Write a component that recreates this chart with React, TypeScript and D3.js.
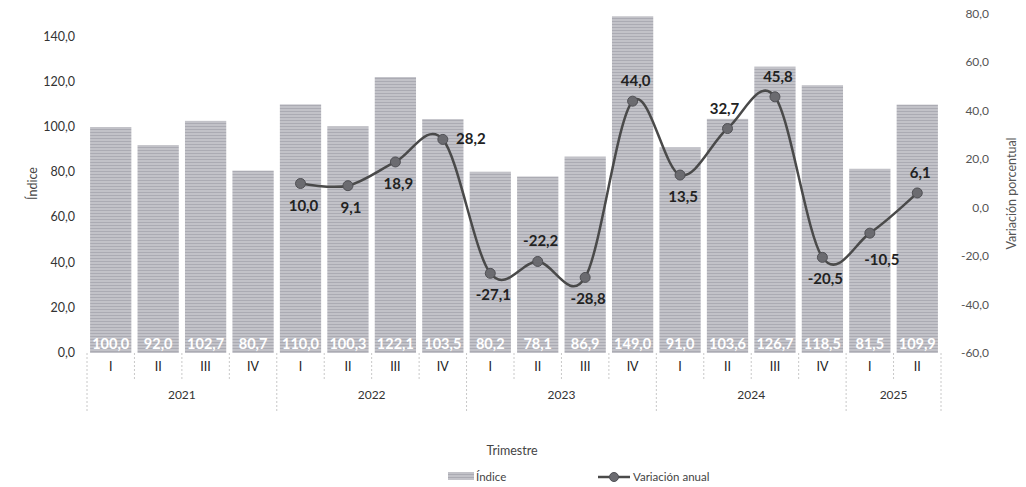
import React from "react";
import * as d3 from "d3";

const years = ["2021", "2022", "2023", "2024", "2025"];
const quarters = ["I", "II", "III", "IV", "I", "II", "III", "IV", "I", "II", "III", "IV", "I", "II", "III", "IV", "I", "II"];
const quarterYear = [0, 0, 0, 0, 1, 1, 1, 1, 2, 2, 2, 2, 3, 3, 3, 3, 4, 4];
const indice = [100.0, 92.0, 102.7, 80.7, 110.0, 100.3, 122.1, 103.5, 80.2, 78.1, 86.9, 149.0, 91.0, 103.6, 126.7, 118.5, 81.5, 109.9];
const variacion = [null, null, null, null, 10.0, 9.1, 18.9, 28.2, -27.1, -22.2, -28.8, 44.0, 13.5, 32.7, 45.8, -20.5, -10.5, 6.1];
// where each line label sits relative to its point
const labelPos = ["", "", "", "", "below", "below", "below", "right", "below", "above", "below", "above", "below", "aboveLeft", "above", "below", "belowRight", "above"];
const leftTicks = [0, 20, 40, 60, 80, 100, 120, 140];
const rightTicks = [-60, -40, -20, 0, 20, 40, 60, 80];

const fmt = (v: number) => v.toFixed(1).replace(".", ",");

export default function App() {
  const W = 1026, H = 487;
  const left = 87, right = 941, top = 14, bottom = 353;
  const font = "Lato, 'Open Sans', sans-serif";

  const x = d3.scaleBand<number>().domain(d3.range(indice.length)).range([left, right]).paddingInner(0.13).paddingOuter(0.065);
  const y = d3.scaleLinear().domain([0, 150]).range([bottom, top]);
  const y2 = d3.scaleLinear().domain([-60, 80]).range([bottom, top]);
  const step = x.step();
  const cx = (i: number) => (x(i) as number) + x.bandwidth() / 2;

  const pts = variacion
    .map((v, i) => ({ v, i }))
    .filter(d => d.v !== null) as { v: number; i: number }[];
  const line = d3
    .line<{ v: number; i: number }>()
    .x(d => cx(d.i))
    .y(d => y2(d.v))
    .curve(d3.curveCardinal.tension(0));

  const labelXY = (d: { v: number; i: number }) => {
    const px = cx(d.i), py = y2(d.v);
    switch (labelPos[d.i]) {
      case "above": return [px + 3, py - 15];
      case "aboveLeft": return [px - 3, py - 15];
      case "right": return [px + 28, py + 5];
      case "belowRight": return [px + 12, py + 32];
      default: return [px + 3, py + 27];
    }
  };

  // year groups
  const yearGroups = years.map((yr, k) => {
    const idx = quarterYear.map((q, i) => (q === k ? i : -1)).filter(i => i >= 0);
    const x0 = left + idx[0] * step;
    const x1 = left + (idx[idx.length - 1] + 1) * step;
    return { yr, x0, x1 };
  });
  const isYearEdge = (px: number) => yearGroups.some(g => Math.abs(g.x0 - px) < 0.5 || Math.abs(g.x1 - px) < 0.5);

  return (
    <svg width={W} height={H} style={{ position: "absolute", left: 0, top: 0, background: "#fff" }} fontFamily={font}>
      <defs>
        <pattern id="tex" width="4" height="3" patternUnits="userSpaceOnUse">
          <rect width="4" height="3" fill="#c2c2c8" />
          <rect width="4" height="1" fill="#ababb3" />
        </pattern>
      </defs>

      {/* bars */}
      {indice.map((v, i) => (
        <rect key={"b" + i} x={x(i)} y={y(v)} width={x.bandwidth()} height={bottom - y(v)} fill="url(#tex)" />
      ))}
      {indice.map((v, i) => (
        <text key={"bl" + i} x={cx(i)} y={bottom - 4} textAnchor="middle" fontSize={14.5} fontWeight="bold" fill="#fff">
          {fmt(v)}
        </text>
      ))}

      {/* category separators */}
      {d3.range(indice.length + 1).map(i => {
        const px = left + i * step;
        return (
          <line key={"s" + i} x1={px} x2={px} y1={bottom} y2={isYearEdge(px) ? 412 : 380}
            stroke="#c8c8c8" strokeWidth={1} strokeDasharray="2,2" />
        );
      })}
      {quarters.map((q, i) => (
        <text key={"q" + i} x={cx(i)} y={371} textAnchor="middle" fontSize={12.5} fill="#222">{q}</text>
      ))}
      {yearGroups.map(g => (
        <text key={g.yr} x={(g.x0 + g.x1) / 2} y={399} textAnchor="middle" fontSize={12} fill="#333">{g.yr}</text>
      ))}

      {/* left axis */}
      {leftTicks.map(t => (
        <text key={"l" + t} x={75} y={y(t) + 4} textAnchor="end" fontSize={12.5} fill="#333">{fmt(t)}</text>
      ))}
      <text transform={`translate(37,${(top + bottom) / 2}) rotate(-90)`} textAnchor="middle" fontSize={12.5} fill="#444">Índice</text>

      {/* right axis */}
      {rightTicks.map(t => (
        <text key={"r" + t} x={989} y={y2(t) + 4} textAnchor="end" fontSize={12} fill="#555">{fmt(t)}</text>
      ))}
      <text transform={`translate(1016,${(top + bottom) / 2 + 10}) rotate(-90)`} textAnchor="middle" fontSize={12.5} fill="#555">Variación porcentual</text>

      {/* line */}
      <path d={line(pts) || ""} fill="none" stroke="#4a4a4a" strokeWidth={2.5} />
      {pts.map(d => (
        <circle key={"c" + d.i} cx={cx(d.i)} cy={y2(d.v)} r={5} fill="#6b6b70" stroke="#505055" strokeWidth={1} />
      ))}
      {pts.map(d => {
        const [lx, ly] = labelXY(d);
        return (
          <text key={"t" + d.i} x={lx} y={ly} textAnchor="middle" fontSize={15} fontWeight="bold" fill="#222">{fmt(d.v)}</text>
        );
      })}

      {/* axis title */}
      <text x={512} y={455} textAnchor="middle" fontSize={12.5} fill="#444">Trimestre</text>

      {/* legend */}
      <rect x={448} y={472} width={26} height={8} fill="url(#tex)" />
      <text x={476} y={481} fontSize={11.5} fill="#444">Índice</text>
      <line x1={598} x2={630} y1={477} y2={477} stroke="#4a4a4a" strokeWidth={2.5} />
      <circle cx={614} cy={477} r={4.5} fill="#6b6b70" stroke="#505055" />
      <text x={633} y={481} fontSize={11.5} fill="#444">Variación anual</text>
    </svg>
  );
}
